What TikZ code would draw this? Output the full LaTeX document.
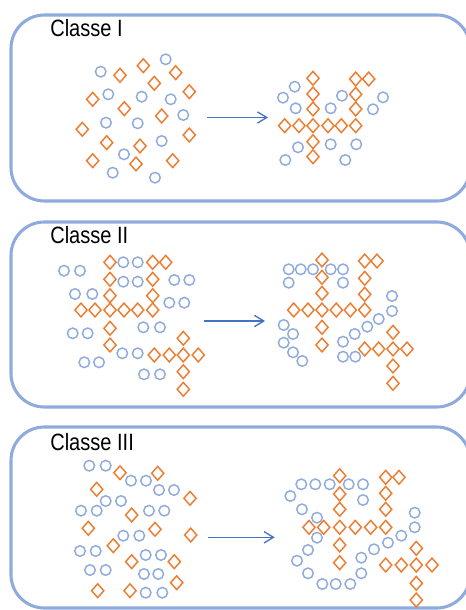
\documentclass[tikz,border=0pt]{standalone}
\usepackage{fontspec}
\usetikzlibrary{arrows.meta, shapes.geometric}
\newfontfamily\titlefont[FakeStretch=0.85]{Liberation Sans}
\definecolor{framec}{HTML}{8FAADC}
\definecolor{dotc}{HTML}{8FAADC}
\definecolor{diac}{HTML}{ED7D31}
\definecolor{arrc}{HTML}{4472C4}

\begin{document}
\begin{tikzpicture}[
    x=0.75pt, y=-0.75pt,
    frame/.style={draw=framec, line width=2.3pt, rounded corners=25pt},
    title/.style={anchor=base west, inner sep=0pt,
                  font=\titlefont\fontsize{17.7}{20}\selectfont},
    dot/.style={circle, draw=dotc, line width=1.1pt, inner sep=0pt,
                minimum size=7.9pt},
    dia/.style={diamond, draw=diac, line width=1.1pt, inner sep=0pt,
                minimum width=9.6pt, minimum height=10.8pt},
    arr/.style={-{Straight Barb[length=7pt, width=8.5pt]}, line width=1pt,
                color=arrc},
]
\useasboundingbox (0,0) rectangle (466,610);
\clip (0,0) rectangle (466,610);

% ================================================== panel 1
\draw[frame] (11,15) rectangle (470,201);
\node[title] (t1) at (50,36.5) {Classe I};

\foreach \x/\y [count=\i] in {100.7/71.7, 165.7/59.3, 108.3/94.3, 141.7/96.7,
    170.7/99.3, 183.3/115, 106/122.7, 137.7/123.3, 161.7/141, 124/154.3,
    112.7/172.7, 155/177.7}
  \node[dot] (c1a-\i) at (\x,\y) {};
\foreach \x/\y [count=\i] in {143.3/65.7, 120/75.3, 175.7/72.7, 154.3/83.3,
    189.3/91.7, 92.7/99.3, 124.3/108.7, 161.7/116, 82.3/129.3, 189.3/135,
    106.7/142.7, 140/146, 92.7/160.7, 136/164, 172.7/160.7}
  \node[dia] (d1a-\i) at (\x,\y) {};

\coordinate (s1) at (207,117.5);
\coordinate (e1) at (268,117.5);
\draw[arr] (s1) -- (e1);

\foreach \x/\y [count=\i] in {294.7/86.7, 283/97.7, 295.7/108.3, 342/95.7,
    330.7/108.3, 383/97.3, 373/109.3, 298/147.3, 330.7/144.3, 356.3/144.3,
    285.3/160, 345.3/160}
  \node[dot] (c1b-\i) at (\x,\y) {};
\foreach \x/\y [count=\i] in {284.7/125.7, 299/125.7, 313/125.7, 328/125.7,
    341.3/125.7, 355.7/125.7, 313/78.3, 313/94, 313/109, 313/141.7,
    313/156.7, 355.7/79, 355.7/94.3, 355.7/109, 368.7/79}
  \node[dia] (d1b-\i) at (\x,\y) {};

% ================================================== panel 2
\draw[frame] (11,222) rectangle (470,407);
\node[title] (t2) at (50,243.3) {Classe II};

\foreach \x/\y [count=\i] in {64/270.7, 80/270.7, 123.3/262.3, 137.7/262.3,
    123.3/281.7, 137.7/281.7, 174.3/280, 189.3/280, 75/294, 92.3/294,
    169.3/302.7, 184.3/302.7, 143.3/327.3, 160/327.3, 72.7/333.3, 87.7/333.3,
    122.3/353.3, 137.7/353.3, 84.3/362.3, 99/362.3, 144/374.3, 160/374.3}
  \node[dot] (c2a-\i) at (\x,\y) {};
\foreach \x/\y [count=\i] in {110/262.3, 110/279.3, 110/295.7, 110/328.3,
    110/345, 81/310, 95/310, 110/310, 124/310, 137.7/310, 152.7/310,
    152.7/262.3, 152.7/279.3, 152.7/295.7, 165.7/262.3, 154.3/355,
    169.3/355, 183.3/355, 198.3/355, 183.3/338.3, 183.3/371.7, 183.3/389.3}
  \node[dia] (d2a-\i) at (\x,\y) {};

\coordinate (s2) at (204,321);
\coordinate (e2) at (265,321);
\draw[arr] (s2) -- (e2);

\foreach \x/\y [count=\i] in {288.7/269.3, 300.7/269.3, 313/269.3,
    330.7/269.3, 343/269.3, 288.7/282.7, 343/282.7, 392/296, 392/311,
    378.7/319, 367.3/326.7, 354.7/334, 283.7/325, 293/334, 283.7/342.7,
    293/352.3, 302.3/361, 343/341.7, 343/356.7, 355.3/356.7}
  \node[dot] (c2b-\i) at (\x,\y) {};
\foreach \x/\y [count=\i] in {322/260, 322/277.3, 322/293.3, 322/327.3,
    322/345, 293.7/310, 308/310, 322/310, 336.3/310, 350.3/310, 364.7/310,
    364.7/261, 364.7/278.3, 364.7/294.3, 377/261, 364.7/349, 378.7/349,
    393/349, 407/349, 393/332.3, 393/366, 393/383.3}
  \node[dia] (d2b-\i) at (\x,\y) {};

% ================================================== panel 3
\draw[frame] (11,427) rectangle (470,608);
\node[title] (t3) at (50,450) {Classe III};

\foreach \x/\y [count=\i] in {89.3/465.7, 105.7/465.7, 131/480.7, 146/480.7,
    159/490, 174/490, 105.7/501, 121/501, 81/510.7, 96.7/510.7, 149/510.7,
    164.3/510.7, 123.3/535.7, 139.3/535.7, 80/551, 95.7/551, 145.7/555,
    161/555, 90/570, 105.7/570, 144/574, 158.3/574, 145.7/592.7, 162.3/592.7}
  \node[dot] (c3a-\i) at (\x,\y) {};
\foreach \x/\y [count=\i] in {120/472.7, 157.7/473.3, 96.7/489.3, 190/498.3,
    131.7/515, 88.3/528.3, 155/529.3, 190.7/535, 113.3/545.7, 131.7/561.7,
    174.3/561.7, 176.7/582.7, 97.7/590.7, 130/590.7}
  \node[dia] (d3a-\i) at (\x,\y) {};

\coordinate (s3) at (208,537.3);
\coordinate (e3) at (274.7,537.3);
\draw[arr] (s3) -- (e3);

\foreach \x/\y [count=\i] in {301.3/484.3, 315.3/484.3, 329.7/484.3,
    348.7/484.3, 363/484.3, 290.3/496, 363/500, 302/509.3, 317/517.7,
    317/537.7, 308/550, 297/560.7, 308/573.3, 322.3/584, 335.7/584,
    350.3/584, 361.3/573.3, 361.3/557.7, 374/549.3, 388/542.7, 401.3/535.7,
    414.7/527.3, 414.7/512.7}
  \node[dot] (c3b-\i) at (\x,\y) {};
\foreach \x/\y [count=\i] in {339.7/475.7, 339.7/494, 339.7/509.3,
    339.7/545, 339.7/562.7, 309/527.3, 323.7/527.3, 339.7/527.3, 355.3/527.3,
    370.7/527.3, 385.7/527.3, 385.7/477.3, 385.7/493.3, 385.7/509.3,
    399/477.3, 385.7/565, 401.3/565, 416.3/565, 432/565, 416.3/548.3,
    416.3/583.3, 416.3/600}
  \node[dia] (d3b-\i) at (\x,\y) {};

\end{tikzpicture}
\end{document}
